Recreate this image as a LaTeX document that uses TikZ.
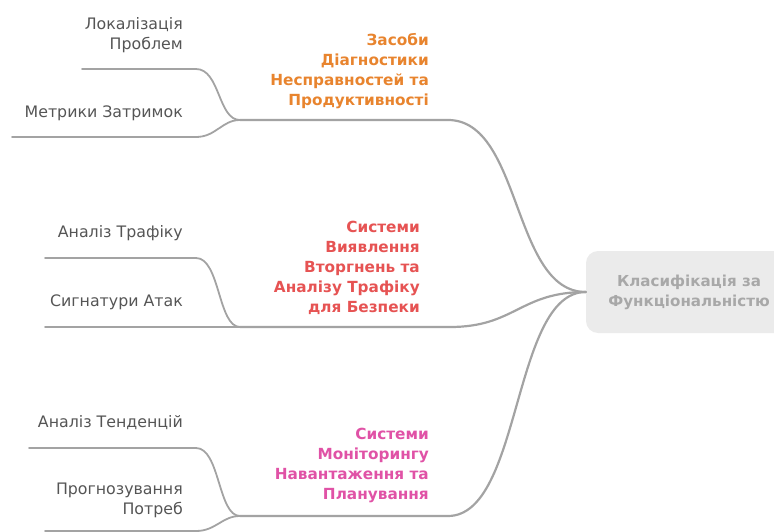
\documentclass[tikz,border=0pt]{standalone}
\usepackage{fontspec}
\setmainfont{DejaVu Sans}
\definecolor{linegray}{HTML}{A3A3A3}
\definecolor{leafgray}{HTML}{555555}
\definecolor{rootfill}{HTML}{EBEBEB}
\definecolor{roottext}{HTML}{A8A8A8}
\definecolor{topicorange}{HTML}{E8842E}
\definecolor{topicred}{HTML}{E65353}
\definecolor{topicpink}{HTML}{E052A6}
\begin{document}
\begin{tikzpicture}[x=1pt,y=-1pt,
  branch/.style={draw=linegray, line width=2.2pt, line cap=round},
  twig/.style={draw=linegray, line width=1.8pt, line cap=round},
  leaf/.style={font=\fontsize{15.8}{20}\selectfont, text=leafgray, align=right, anchor=east, inner sep=0pt},
  topic/.style={font=\bfseries\fontsize{15.3}{20}\selectfont, align=right, anchor=east, inner sep=0pt},
  rootbox/.style={fill=rootfill, rounded corners=12pt, minimum width=206pt, minimum height=82pt,
    font=\bfseries\fontsize{15.1}{20}\selectfont, text=roottext, align=center, inner sep=0pt}]
\useasboundingbox (0,0) rectangle (774,532);

% central topic
\node[rootbox] (root) at (689,292) {Класифікація за\\Функціональністю};

% junctions of the three topic branches
\coordinate (j1) at (240,120); \coordinate (e1) at (448,120);
\coordinate (j2) at (240,327); \coordinate (e2) at (450,327);
\coordinate (j3) at (240,516); \coordinate (e3) at (448,516);

% leaf line ends
\coordinate (a1) at (82,69);   \coordinate (a1e) at (196,69);
\coordinate (b1) at (12,137);  \coordinate (b1e) at (196,137);
\coordinate (a2) at (45,258);  \coordinate (a2e) at (196,258);
\coordinate (b2) at (45,327);
\coordinate (a3) at (29,448);  \coordinate (a3e) at (196,448);
\coordinate (b3) at (45,531);  \coordinate (b3e) at (196,531);

% topic labels
\node[topic, text=topicorange] (t1) at (429,71) {Засоби\\Діагностики\\Несправностей та\\Продуктивності};
\node[topic, text=topicred] (t2) at (420,268) {Системи\\Виявлення\\Вторгнень та\\Аналізу Трафіку\\для Безпеки};
\node[topic, text=topicpink] (t3) at (429,465) {Системи\\Моніторингу\\Навантаження та\\Планування};

% leaf labels
\node[leaf] (l11) at (183,35) {Локалізація\\Проблем};
\node[leaf] (l12) at (183,113) {Метрики Затримок};
\node[leaf] (l21) at (183,233) {Аналіз Трафіку};
\node[leaf] (l22) at (183,302) {Сигнатури Атак};
\node[leaf] (l31) at (183,423) {Аналіз Тенденцій};
\node[leaf] (l32) at (183,500) {Прогнозування\\Потреб};

% root to topics
\draw[branch] (root.west) .. controls (512,292) and (522,120) .. (e1) -- (j1);
\draw[branch] (root.west) .. controls (520,292) and (515,327) .. (e2) -- (j2);
\draw[branch] (root.west) .. controls (512,292) and (522,516) .. (e3) -- (j3);

% topics to leaves
\draw[twig] (j1) .. controls (218,120) and (220,69) .. (a1e) -- (a1);
\draw[twig] (j1) .. controls (222,120) and (216,137) .. (b1e) -- (b1);
\draw[twig] (j2) .. controls (218,327) and (220,258) .. (a2e) -- (a2);
\draw[twig] (j2) -- (b2);
\draw[twig] (j3) .. controls (218,516) and (220,448) .. (a3e) -- (a3);
\draw[twig] (j3) .. controls (222,516) and (216,531) .. (b3e) -- (b3);
\end{tikzpicture}
\end{document}
